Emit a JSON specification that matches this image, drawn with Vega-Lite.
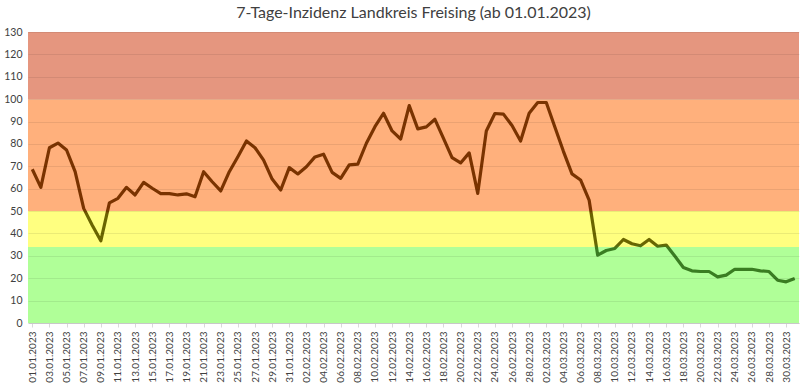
{
  "$schema": "https://vega.github.io/schema/vega-lite/v6.json",
  "width": 771,
  "height": 291,
  "autosize": "none",
  "padding": {"left": 28, "top": 32, "right": 1, "bottom": 61},
  "background": "white",
  "title": {
    "text": "7-Tage-Inzidenz Landkreis Freising (ab 01.01.2023)",
    "font": "Lato",
    "fontSize": 16,
    "fontWeight": "normal",
    "color": "#404040",
    "anchor": "middle",
    "frame": "group",
    "offset": 6
  },
  "config": {
    "view": {"stroke": null},
    "axis": {"labelFont": "Lato", "labelColor": "#404040", "labelFontSize": 10}
  },
  "layer": [
    {
      "data": {"values": [
        {"lo": 0, "hi": 34, "zone": "gruen"},
        {"lo": 34, "hi": 50, "zone": "gelb"},
        {"lo": 50, "hi": 100, "zone": "orange"},
        {"lo": 100, "hi": 130, "zone": "rot"}
      ]},
      "mark": {"type": "rect"},
      "encoding": {
        "y": {"field": "lo", "type": "quantitative", "scale": {"domain": [0, 130]},
          "axis": {"values": [0,10,20,30,40,50,60,70,80,90,100,110,120,130], "labelOverlap": false, "labelFlush": false, "title": null, "domain": false, "ticks": false, "labelPadding": 6, "labelFontSize": 10.5, "gridColor": "#000000", "gridOpacity": 0.08, "gridWidth": 1, "zindex": 1}},
        "y2": {"field": "hi"},
        "color": {"field": "zone", "type": "nominal", "legend": null,
          "scale": {"domain": ["gruen", "gelb", "orange", "rot"], "range": ["#B0FF98", "#FFFF80", "#FFB07C", "#E5967F"]}}
      }
    },
    {
      "data": {"values": [
        {"d": "01.01.2023", "v": 68.7}, {"d": "02.01.2023", "v": 60.6}, {"d": "03.01.2023", "v": 78.3}, {"d": "04.01.2023", "v": 80.4},
        {"d": "05.01.2023", "v": 77.3}, {"d": "06.01.2023", "v": 67.6}, {"d": "07.01.2023", "v": 51.2}, {"d": "08.01.2023", "v": 43.7},
        {"d": "09.01.2023", "v": 36.7}, {"d": "10.01.2023", "v": 53.7}, {"d": "11.01.2023", "v": 55.7}, {"d": "12.01.2023", "v": 60.6},
        {"d": "13.01.2023", "v": 57.2}, {"d": "14.01.2023", "v": 62.8}, {"d": "15.01.2023", "v": 60.2}, {"d": "16.01.2023", "v": 57.8},
        {"d": "17.01.2023", "v": 57.8}, {"d": "18.01.2023", "v": 57.2}, {"d": "19.01.2023", "v": 57.7}, {"d": "20.01.2023", "v": 56.4},
        {"d": "21.01.2023", "v": 67.6}, {"d": "22.01.2023", "v": 63.1}, {"d": "23.01.2023", "v": 59.0}, {"d": "24.01.2023", "v": 67.6},
        {"d": "25.01.2023", "v": 74.3}, {"d": "26.01.2023", "v": 81.3}, {"d": "27.01.2023", "v": 78.3}, {"d": "28.01.2023", "v": 72.8},
        {"d": "29.01.2023", "v": 64.3}, {"d": "30.01.2023", "v": 59.4}, {"d": "31.01.2023", "v": 69.4}, {"d": "01.02.2023", "v": 66.6},
        {"d": "02.02.2023", "v": 69.8}, {"d": "03.02.2023", "v": 74.2}, {"d": "04.02.2023", "v": 75.4}, {"d": "05.02.2023", "v": 67.3},
        {"d": "06.02.2023", "v": 64.6}, {"d": "07.02.2023", "v": 70.6}, {"d": "08.02.2023", "v": 71.0}, {"d": "09.02.2023", "v": 80.3},
        {"d": "10.02.2023", "v": 87.7}, {"d": "11.02.2023", "v": 93.7}, {"d": "12.02.2023", "v": 85.8}, {"d": "13.02.2023", "v": 82.2},
        {"d": "14.02.2023", "v": 97.1}, {"d": "15.02.2023", "v": 86.7}, {"d": "16.02.2023", "v": 87.6}, {"d": "17.02.2023", "v": 91.0},
        {"d": "18.02.2023", "v": 82.5}, {"d": "19.02.2023", "v": 73.9}, {"d": "20.02.2023", "v": 71.5}, {"d": "21.02.2023", "v": 76.0},
        {"d": "22.02.2023", "v": 57.9}, {"d": "23.02.2023", "v": 85.8}, {"d": "24.02.2023", "v": 93.6}, {"d": "25.02.2023", "v": 93.3},
        {"d": "26.02.2023", "v": 88.2}, {"d": "27.02.2023", "v": 81.3}, {"d": "28.02.2023", "v": 93.7}, {"d": "01.03.2023", "v": 98.5},
        {"d": "02.03.2023", "v": 98.5}, {"d": "03.03.2023", "v": 87.6}, {"d": "04.03.2023", "v": 76.7}, {"d": "05.03.2023", "v": 66.6},
        {"d": "06.03.2023", "v": 63.9}, {"d": "07.03.2023", "v": 54.9}, {"d": "08.03.2023", "v": 30.3}, {"d": "09.03.2023", "v": 32.4},
        {"d": "10.03.2023", "v": 33.3}, {"d": "11.03.2023", "v": 37.3}, {"d": "12.03.2023", "v": 35.4}, {"d": "13.03.2023", "v": 34.5},
        {"d": "14.03.2023", "v": 37.3}, {"d": "15.03.2023", "v": 34.3}, {"d": "16.03.2023", "v": 34.8}, {"d": "17.03.2023", "v": 29.9},
        {"d": "18.03.2023", "v": 24.8}, {"d": "19.03.2023", "v": 23.3}, {"d": "20.03.2023", "v": 23.0}, {"d": "21.03.2023", "v": 23.0},
        {"d": "22.03.2023", "v": 20.6}, {"d": "23.03.2023", "v": 21.4}, {"d": "24.03.2023", "v": 24.0}, {"d": "25.03.2023", "v": 24.0},
        {"d": "26.03.2023", "v": 24.0}, {"d": "27.03.2023", "v": 23.3}, {"d": "28.03.2023", "v": 23.0}, {"d": "29.03.2023", "v": 19.1},
        {"d": "30.03.2023", "v": 18.4}, {"d": "31.03.2023", "v": 19.9}
      ]},
      "mark": {
        "type": "line",
        "strokeWidth": 3.2,
        "strokeJoin": "round",
        "color": {
          "gradient": "linear",
          "x1": 0, "y1": 0, "x2": 0, "y2": 1,
          "stops": [
            {"offset": 0, "color": "#7A3300"},
            {"offset": 0.595, "color": "#7A3300"},
            {"offset": 0.625, "color": "#6A6500"},
            {"offset": 0.79, "color": "#6A6500"},
            {"offset": 0.815, "color": "#3A7D22"},
            {"offset": 1, "color": "#3A7D22"}
          ]
        }
      },
      "encoding": {
        "x": {"field": "d", "type": "ordinal", "sort": null,
          "scale": {"paddingInner": 0, "paddingOuter": 0},
          "axis": {
            "title": null,
            "labelAngle": -90,
            "labelPadding": 4,
            "values": ["01.01.2023","03.01.2023","05.01.2023","07.01.2023","09.01.2023","11.01.2023","13.01.2023","15.01.2023","17.01.2023","19.01.2023","21.01.2023","23.01.2023","25.01.2023","27.01.2023","29.01.2023","31.01.2023","02.02.2023","04.02.2023","06.02.2023","08.02.2023","10.02.2023","12.02.2023","14.02.2023","16.02.2023","18.02.2023","20.02.2023","22.02.2023","24.02.2023","26.02.2023","28.02.2023","02.03.2023","04.03.2023","06.03.2023","08.03.2023","10.03.2023","12.03.2023","14.03.2023","16.03.2023","18.03.2023","20.03.2023","22.03.2023","24.03.2023","26.03.2023","28.03.2023","30.03.2023"],
            "labelOverlap": false,
            "domainColor": "#D9D9D9",
            "tickColor": "#D9D9D9",
            "tickSize": 4,
            "grid": false
          }
        },
        "y": {"field": "v", "type": "quantitative", "scale": {"domain": [0, 130]},
          "axis": {"values": [0,10,20,30,40,50,60,70,80,90,100,110,120,130], "labelOverlap": false, "labelFlush": false, "title": null, "domain": false, "ticks": false, "labelPadding": 6, "labelFontSize": 10.5, "gridColor": "#000000", "gridOpacity": 0.08, "gridWidth": 1, "zindex": 1}}
      }
    }
  ]
}
